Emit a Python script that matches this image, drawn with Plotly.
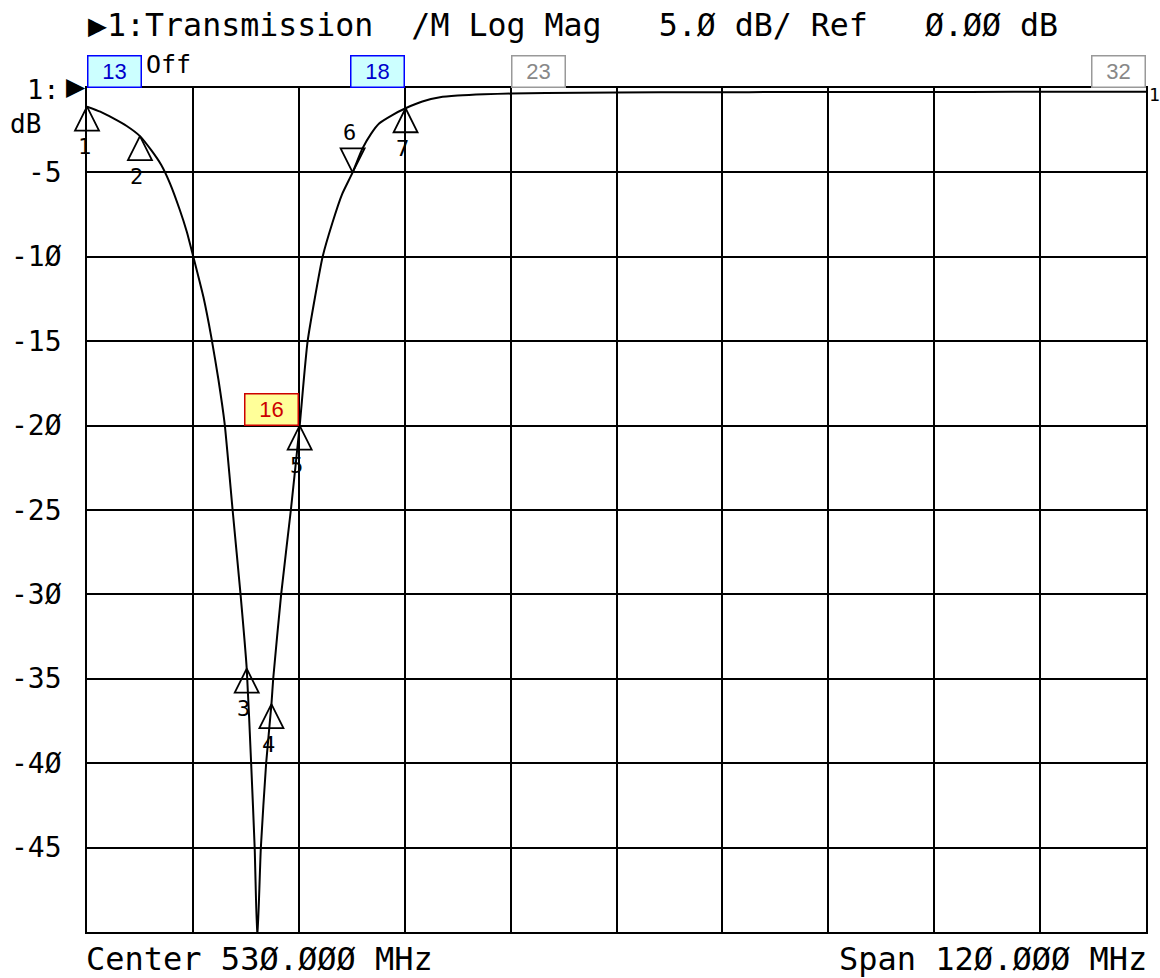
import plotly.graph_objects as go

# ---- data ----
freq_mhz = [470, 471.5, 473, 474.5, 476, 477.3, 478.4, 479.4, 480.5, 481.3, 482.0, 483.2,
            484.1, 484.9, 485.6, 486.5, 487.4, 488.1, 488.6, 489.0, 489.3, 489.7, 490.3,
            490.9, 491.1, 492.0, 493.1, 494.1, 495.0, 496.7, 497.8, 498.9, 500.1, 501.2,
            502.2, 503.1, 504.6, 506.1, 508, 510, 512, 515, 518, 522, 530, 540, 550,
            560, 570, 580, 590]
trans_db = [-1.1, -1.4, -1.8, -2.25, -2.85, -3.7, -4.55, -5.65, -7.2, -8.5, -9.9, -12.4,
            -14.8, -17.3, -19.9, -25.0, -30.0, -34.4, -40.0, -45.0, -50.5, -45.0, -40.0,
            -36.5, -35.0, -30.0, -25.0, -20.0, -15.0, -10.0, -8.0, -6.3, -5.0, -3.6,
            -2.7, -2.1, -1.6, -1.2, -0.8, -0.55, -0.45, -0.37, -0.33, -0.3, -0.27,
            -0.25, -0.24, -0.23, -0.23, -0.22, -0.22]

marker_ids = ["1", "2", "3", "4", "5", "6", "7"]
marker_freq = [470.0, 476.0, 488.1, 490.9, 494.1, 500.1, 506.1]
marker_db = [-1.1, -2.85, -34.4, -36.5, -20.0, -5.0, -1.2]
marker_dir = ["up", "up", "up", "up", "up", "down", "up"]

y_tick_vals = [-5, -10, -15, -20, -25, -30, -35, -40, -45]
y_tick_labels = ["-5", "-1Ø", "-15", "-2Ø", "-25", "-3Ø", "-35", "-4Ø", "-45"]

box_labels = ["13", "18", "23", "32", "16"]
box_freq = [470, 506, 518, 590, 494]
box_db = [0, 0, 0, 0, -20]
box_side = ["left", "right", "left", "right", "right"]
box_style = ["blue", "blue", "grey", "grey", "red"]

title_text = "▶1:Transmission  /M Log Mag   5.Ø dB/ Ref   Ø.ØØ dB"
center_text = "Center 53Ø.ØØØ MHz"
span_text = "Span 12Ø.ØØØ MHz"

# ---- layout constants ----
W, H = 1160, 978
L, R, T, B = 87, 12, 88, 46
PW, PH = W - L - R, H - T - B
MONO = "DejaVu Sans Mono"


def px(xp):
    return (xp - L) / PW


def py(yp):
    return (H - B - yp) / PH


fig = go.Figure()
fig.add_trace(go.Scatter(x=freq_mhz, y=trans_db, mode="lines",
                         line=dict(color="black", width=2, shape="spline",
                                   smoothing=0.5),
                         hoverinfo="skip", showlegend=False))

# marker triangles (tip on the trace point)
sym = ["arrow-up-open" if d == "up" else "arrow-down-open" for d in marker_dir]
fig.add_trace(go.Scatter(x=marker_freq, y=marker_db, mode="markers",
                         marker=dict(symbol=sym, size=24, color="black",
                                     line=dict(color="black", width=1.8)),
                         cliponaxis=False, hoverinfo="skip", showlegend=False))

annotations = []
for mid, f, d, dr in zip(marker_ids, marker_freq, marker_db, marker_dir):
    yshift = -40 if dr == "up" else 40
    annotations.append(dict(x=f, y=d, xref="x", yref="y", text=mid, showarrow=False,
                            xshift=-3, yshift=yshift,
                            font=dict(family=MONO, size=22, color="black")))

# boxes
styles = {
    "blue": dict(bg="#ccffff", border="#0000ff", fg="#0000cc"),
    "grey": dict(bg="#ffffff", border="#999999", fg="#888888"),
    "red": dict(bg="#ffff99", border="#cc0000", fg="#cc0000"),
}
for lab, f, d, side, st in zip(box_labels, box_freq, box_db, box_side, box_style):
    s = styles[st]
    annotations.append(dict(x=f, y=d, xref="x", yref="y", text=lab, showarrow=False,
                            xanchor=side, yanchor="bottom", width=52, height=30,
                            bgcolor=s["bg"], bordercolor=s["border"], borderwidth=1.5,
                            borderpad=0, font=dict(family="Liberation Sans", size=22,
                                                   color=s["fg"])))

# y tick labels
for v, t in zip(y_tick_vals, y_tick_labels):
    annotations.append(dict(x=px(64), y=v, xref="paper", yref="y", text=t,
                            showarrow=False, xanchor="right", yanchor="middle",
                            font=dict(family=MONO, size=28, color="black")))

# header / footer text
annotations += [
    dict(x=px(86), y=py(25), xref="paper", yref="paper", text=title_text,
         showarrow=False, xanchor="left", yanchor="middle",
         font=dict(family=MONO, size=31.6, color="black")),
    dict(x=px(144), y=py(65), xref="paper", yref="paper", text="Off",
         showarrow=False, xanchor="left", yanchor="middle",
         font=dict(family=MONO, size=25, color="black")),
    dict(x=px(62), y=py(89), xref="paper", yref="paper", text="1:",
         showarrow=False, xanchor="right", yanchor="middle",
         font=dict(family=MONO, size=27, color="black")),
    dict(x=px(88), y=py(87), xref="paper", yref="paper", text="▶",
         showarrow=False, xanchor="right", yanchor="middle",
         font=dict(family="DejaVu Sans", size=25, color="black")),
    dict(x=px(8), y=py(124), xref="paper", yref="paper", text="dB",
         showarrow=False, xanchor="left", yanchor="middle",
         font=dict(family=MONO, size=26, color="black")),
    dict(x=px(1149), y=py(94), xref="paper", yref="paper", text="1",
         showarrow=False, xanchor="left", yanchor="middle",
         font=dict(family=MONO, size=18, color="black")),
    dict(x=px(84), y=py(980), xref="paper", yref="paper", text=center_text,
         showarrow=False, xanchor="left", yanchor="bottom",
         font=dict(family=MONO, size=32, color="black")),
    dict(x=px(1151), y=py(980), xref="paper", yref="paper", text=span_text,
         showarrow=False, xanchor="right", yanchor="bottom",
         font=dict(family=MONO, size=32, color="black")),
]

fig.update_layout(
    width=W, height=H,
    margin=dict(l=L, r=R, t=T, b=B),
    paper_bgcolor="white", plot_bgcolor="white",
    annotations=annotations,
    xaxis=dict(range=[470, 590], tick0=470, dtick=12, showgrid=True,
               gridcolor="black", gridwidth=1.6, showticklabels=False, ticks="",
               zeroline=False, showline=True, mirror=True, linecolor="black",
               linewidth=2, fixedrange=True),
    yaxis=dict(range=[-50, 0], tick0=0, dtick=5, showgrid=True,
               gridcolor="black", gridwidth=1.6, showticklabels=False, ticks="",
               zeroline=False, showline=True, mirror=True, linecolor="black",
               linewidth=2, fixedrange=True),
    showlegend=False,
)

fig.write_html("out.html", config={"displayModeBar": False},
               post_script="document.body.style.margin='0px';"
                           "document.body.style.overflow='hidden';")
